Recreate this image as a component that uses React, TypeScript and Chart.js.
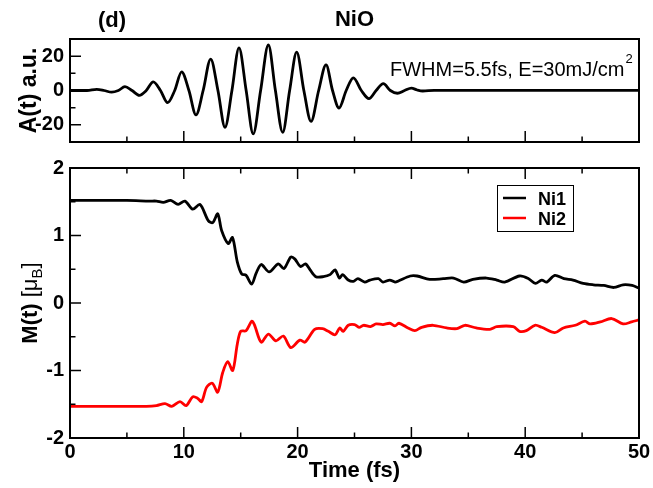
import React, { useEffect, useRef } from "react";
import { Chart, registerables } from "chart.js";

Chart.register(...registerables);

const SANS = "'Liberation Sans', Arial, Helvetica, sans-serif";

// ---------------- data ----------------
const aTime = [
  0, 1.5, 2.35, 3.0, 3.66, 4.25, 4.83, 5.45, 6.1, 6.7, 7.32, 7.95, 8.58, 9.2, 9.81, 10.45,
  11.07, 11.7, 12.36, 13.0, 13.62, 14.23, 14.85, 15.48, 16.1, 16.75, 17.43, 18.05, 18.69,
  19.3, 19.92, 20.55, 21.18, 21.85, 22.5, 23.07, 23.64, 24.27, 24.9, 25.6, 26.27, 26.9,
  27.53, 28.15, 28.77, 29.4, 30.0, 30.5, 31.0, 32.0, 40.0, 50.0,
];
const aValue = [
  0, 0, 0.7, 0, -1.0, 0, 2.2, 0, -2.8, 0, 5.0, 0, -7.1, 0, 10.9, 0,
  -14.2, 0, 18.3, 0, -21.4, 0, 24.8, 0, -25.3, 0, 26.5, 0, -24.4,
  0, 22.3, 0, -18.0, 0, 14.9, 0, -10.2, 0, 7.4, 0, -4.7, 0,
  4.0, 0, -1.6, 0, 1.4, 0.3, -0.3, 0.1, 0.1, 0.1,
];

const ni1Time = [
  0, 5, 7.0, 7.6, 8.2, 8.85, 9.5, 10.1, 10.78, 11.42, 12.15, 12.54, 12.98, 13.33, 13.9,
  14.28, 14.7, 15.09, 15.47, 15.97, 16.35, 16.8, 17.5, 18.3, 18.8, 19.4, 19.77, 20.25,
  20.7, 21.1, 21.6, 22.26, 22.85, 23.29, 23.67, 23.96, 24.45, 24.9, 25.3, 25.9, 26.36,
  27.1, 27.5, 28.1, 28.56, 28.9, 29.9, 30.5, 31.6, 32.8, 33.7, 34.6, 35.4, 36.6, 37.5,
  38.2, 39.5, 40.3, 40.9, 41.45, 41.9, 42.6, 43.4, 44.2, 45.1, 46.0, 46.9, 47.8, 48.6,
  49.4, 50,
];
const ni1Moment = [
  1.52, 1.52, 1.51, 1.51, 1.49, 1.52, 1.46, 1.51, 1.39, 1.46, 1.22, 1.19, 1.32, 1.07, 0.88,
  0.97, 0.61, 0.43, 0.41, 0.28, 0.44, 0.57, 0.46, 0.58, 0.51, 0.68, 0.65, 0.54,
  0.58, 0.49, 0.39, 0.39, 0.42, 0.49, 0.37, 0.42, 0.34, 0.32, 0.36, 0.31, 0.34,
  0.36, 0.31, 0.34, 0.31, 0.33, 0.4, 0.4, 0.35, 0.36, 0.37, 0.31, 0.35, 0.37, 0.34,
  0.31, 0.4, 0.36, 0.29, 0.34, 0.31, 0.41, 0.36, 0.34, 0.29, 0.27, 0.26, 0.23, 0.27,
  0.26, 0.22,
];

const ni2Time = [
  0, 6.7, 7.6, 8.35, 8.94, 9.67, 10.2, 10.78, 11.2, 11.57, 12.0, 12.5, 12.98, 13.42, 13.86,
  14.3, 14.7, 15.0, 15.47, 15.97, 16.2, 16.8, 17.43, 18.1, 18.75, 19.4, 20.2, 20.65, 21.5,
  22.2, 22.7, 23.3, 23.7, 24.0, 24.45, 25.0, 25.4, 25.8, 26.4, 26.9, 27.5, 28.1, 28.56,
  28.9, 29.7, 30.3, 30.9, 31.9, 33.1, 34.0, 34.7, 35.7, 36.9, 37.5, 38.95, 39.5, 40.1,
  40.85, 41.45, 42.6, 43.35, 44.4, 45.25, 45.7, 46.6, 47.6, 48.6, 49.35, 50,
];
const ni2Moment = [
  -1.53, -1.53, -1.52, -1.49, -1.53, -1.46, -1.52, -1.39, -1.41, -1.46, -1.25, -1.19, -1.32, -1.03, -0.87,
  -1.0, -0.61, -0.42, -0.41, -0.27, -0.32, -0.58, -0.46, -0.56, -0.49, -0.66, -0.55, -0.58, -0.39,
  -0.38, -0.42, -0.47, -0.37, -0.42, -0.33, -0.32, -0.36, -0.33, -0.35, -0.31, -0.32, -0.3, -0.34,
  -0.3, -0.37, -0.41, -0.36, -0.33, -0.37, -0.38, -0.33, -0.37, -0.39, -0.35, -0.35, -0.42, -0.41,
  -0.33, -0.36, -0.44, -0.37, -0.33, -0.27, -0.31, -0.28, -0.23, -0.31, -0.28, -0.25,
];

const xTicks = [0, 10, 20, 30, 40, 50];
const xMinorTicks = [5, 15, 25, 35, 45];
const aTicks = [-20, 0, 20];
const aMinorTicks = [-10, 10];
const mTicks = [-2, -1, 0, 1, 2];
const mMinorTicks = [-1.5, -0.5, 0.5, 1.5];
const seriesLabels = ["Ni1", "Ni2"];
const seriesColors = ["#000000", "#ff0000"];
const panelTag = "(d)";
const panelTitle = "NiO";
const annotationMain = "FWHM=5.5fs, E=30mJ/cm";
const annotationSup = "2";
const xTitle = "Time (fs)";
const aTitle = "A(t) a.u.";

const toPoints = (xs: number[], ys: number[]) => xs.map((x, i) => ({ x, y: ys[i] }));

// ---------------- helpers ----------------
function frameTicksPlugin(id: string, yMajor: number[], yMinor: number[], topTicks: boolean) {
  return {
    id,
    afterDatasetsDraw(chart: any) {
      const { ctx, chartArea: a, scales } = chart;
      const sx = scales.x;
      const sy = scales.y;
      ctx.save();
      ctx.strokeStyle = "#000";
      ctx.lineWidth = 1.5;
      ctx.beginPath();
      const vx = (vals: number[], len: number) =>
        vals.forEach((v) => {
          if (v <= sx.min || v >= sx.max) return;
          const p = sx.getPixelForValue(v);
          ctx.moveTo(p, a.bottom);
          ctx.lineTo(p, a.bottom - len);
          if (topTicks) {
            ctx.moveTo(p, a.top);
            ctx.lineTo(p, a.top + len);
          }
        });
      const hy = (vals: number[], len: number) =>
        vals.forEach((v) => {
          if (v <= sy.min || v >= sy.max) return;
          const p = sy.getPixelForValue(v);
          ctx.moveTo(a.left, p);
          ctx.lineTo(a.left + len, p);
        });
      vx(xTicks, 11);
      vx(xMinorTicks, 5.5);
      hy(yMajor, 11);
      hy(yMinor, 5.5);
      ctx.stroke();
      ctx.lineWidth = 2;
      ctx.strokeRect(a.left, a.top, a.right - a.left, a.bottom - a.top);
      ctx.restore();
    },
  };
}

type Run = { text: string; font: string; dy?: number };
function drawRotatedRuns(ctx: CanvasRenderingContext2D, cx: number, cy: number, runs: Run[]) {
  ctx.save();
  ctx.translate(cx, cy);
  ctx.rotate(-Math.PI / 2);
  ctx.fillStyle = "#000";
  ctx.textAlign = "left";
  ctx.textBaseline = "alphabetic";
  let total = 0;
  runs.forEach((r) => {
    ctx.font = r.font;
    total += ctx.measureText(r.text).width;
  });
  let x = -total / 2;
  runs.forEach((r) => {
    ctx.font = r.font;
    ctx.fillText(r.text, x, r.dy || 0);
    x += ctx.measureText(r.text).width;
  });
  ctx.restore();
}

const bold = (s: number) => `bold ${s}px ${SANS}`;
const reg = (s: number) => `${s}px ${SANS}`;

const tickFont = { family: SANS, size: 20, weight: "bold" as const };

export default function App() {
  const topRef = useRef<HTMLCanvasElement>(null);
  const botRef = useRef<HTMLCanvasElement>(null);

  useEffect(() => {
    const topText = {
      id: "topText",
      afterDraw(chart: any) {
        const { ctx, chartArea: a } = chart;
        ctx.save();
        ctx.fillStyle = "#000";
        ctx.textBaseline = "alphabetic";
        ctx.textAlign = "center";
        ctx.font = bold(22);
        ctx.fillText(panelTag, 112, 27);
        ctx.fillText(panelTitle, (a.left + a.right) / 2, 26);
        ctx.textAlign = "left";
        ctx.font = reg(20);
        ctx.fillText(annotationMain, 390, 76);
        const w = ctx.measureText(annotationMain).width;
        ctx.font = reg(13);
        ctx.fillText(annotationSup, 390 + w + 1, 63);
        ctx.restore();
        drawRotatedRuns(ctx, 36, (a.top + a.bottom) / 2, [{ text: aTitle, font: bold(23) }]);
      },
    };

    const top = new Chart(topRef.current as HTMLCanvasElement, {
      type: "line",
      data: {
        datasets: [
          {
            data: toPoints(aTime, aValue),
            borderColor: "#000",
            borderWidth: 2.8,
            pointRadius: 0,
            cubicInterpolationMode: "monotone",
            fill: false,
          },
        ],
      },
      options: {
        animation: false,
        responsive: false,
        devicePixelRatio: 1,
        layout: { padding: { left: 0, right: 14, top: 39, bottom: 7 } },
        plugins: { legend: { display: false }, tooltip: { enabled: false } },
        scales: {
          x: { type: "linear", min: 0, max: 50, display: false },
          y: {
            type: "linear",
            min: -30,
            max: 30,
            afterBuildTicks: (s: any) => {
              s.ticks = aTicks.map((v) => ({ value: v }));
            },
            afterFit: (s: any) => {
              s.width = 70;
            },
            grid: { display: false, drawTicks: false },
            border: { display: false },
            ticks: { color: "#000", font: tickFont, padding: 6 },
          },
        },
      } as any,
      plugins: [frameTicksPlugin("frameTop", aTicks, aMinorTicks, false), topText],
    });

    const botText = {
      id: "botText",
      afterDraw(chart: any) {
        const { ctx, chartArea: a } = chart;
        ctx.save();
        ctx.fillStyle = "#000";
        ctx.textBaseline = "alphabetic";
        ctx.textAlign = "center";
        ctx.font = bold(22);
        ctx.fillText(xTitle, (a.left + a.right) / 2, a.bottom + 39);
        // legend
        const bx = a.right - 142;
        const by = a.top + 17;
        ctx.fillStyle = "#fff";
        ctx.fillRect(bx, by, 76, 46);
        ctx.strokeStyle = "#000";
        ctx.lineWidth = 1;
        ctx.strokeRect(bx + 0.5, by + 0.5, 76, 46);
        seriesLabels.forEach((lab, i) => {
          const ly = a.top + 30 + i * 20;
          ctx.strokeStyle = seriesColors[i];
          ctx.lineWidth = 2.5;
          ctx.beginPath();
          ctx.moveTo(bx + 6, ly);
          ctx.lineTo(bx + 29, ly);
          ctx.stroke();
          ctx.fillStyle = "#000";
          ctx.textAlign = "left";
          ctx.font = bold(18);
          ctx.fillText(lab, bx + 41, ly + 7);
        });
        ctx.restore();
        drawRotatedRuns(ctx, 37, (a.top + a.bottom) / 2, [
          { text: "M(t) ", font: bold(22) },
          { text: "[\u03bc", font: reg(22) },
          { text: "B", font: reg(15), dy: 5 },
          { text: "]", font: reg(22) },
        ]);
      },
    };

    const bot = new Chart(botRef.current as HTMLCanvasElement, {
      type: "line",
      data: {
        datasets: [
          {
            label: seriesLabels[0],
            data: toPoints(ni1Time, ni1Moment),
            borderColor: seriesColors[0],
            borderWidth: 2.8,
            pointRadius: 0,
            tension: 0.3,
            fill: false,
          },
          {
            label: seriesLabels[1],
            data: toPoints(ni2Time, ni2Moment),
            borderColor: seriesColors[1],
            borderWidth: 2.8,
            pointRadius: 0,
            tension: 0.3,
            fill: false,
          },
        ],
      },
      options: {
        animation: false,
        responsive: false,
        devicePixelRatio: 1,
        layout: { padding: { left: 0, right: 14, top: 15, bottom: 0 } },
        plugins: { legend: { display: false }, tooltip: { enabled: false } },
        scales: {
          x: {
            type: "linear",
            min: 0,
            max: 50,
            afterBuildTicks: (s: any) => {
              s.ticks = xTicks.map((v) => ({ value: v }));
            },
            afterFit: (s: any) => {
              s.height = 50;
            },
            grid: { display: false, drawTicks: false },
            border: { display: false },
            ticks: { color: "#000", font: tickFont, padding: 2, autoSkip: false, maxRotation: 0 },
          },
          y: {
            type: "linear",
            min: -2,
            max: 2,
            afterBuildTicks: (s: any) => {
              s.ticks = mTicks.map((v) => ({ value: v }));
            },
            afterFit: (s: any) => {
              s.width = 70;
            },
            grid: { display: false, drawTicks: false },
            border: { display: false },
            ticks: { color: "#000", font: tickFont, padding: 6 },
          },
        },
      } as any,
      plugins: [frameTicksPlugin("frameBot", mTicks, mMinorTicks, true), botText],
    });

    return () => {
      top.destroy();
      bot.destroy();
    };
  }, []);

  return (
    <div style={{ position: "fixed", left: 0, top: 0, width: 653, height: 488, background: "#fff" }}>
      <canvas
        ref={topRef}
        width={653}
        height={160}
        style={{ position: "absolute", left: 0, top: 0, width: 653, height: 160 }}
      />
      <canvas
        ref={botRef}
        width={653}
        height={338}
        style={{ position: "absolute", left: 0, top: 150, width: 653, height: 338 }}
      />
    </div>
  );
}
